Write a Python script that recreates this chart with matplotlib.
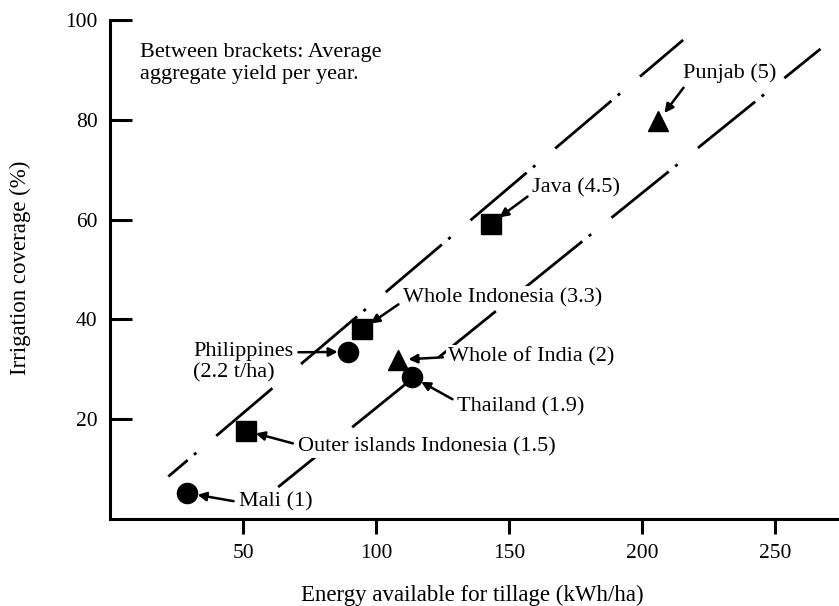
import matplotlib.pyplot as plt

plt.rcParams["font.family"] = ["Liberation Serif", "DejaVu Serif"]
plt.rcParams["lines.scale_dashes"] = False

# points: energy (kWh/ha), irrigation coverage (%)
labels = ["Mali (1)", "Outer islands Indonesia (1.5)", "Philippines\n(2.2 t/ha)",
          "Whole Indonesia (3.3)", "Whole of India (2)", "Thailand (1.9)",
          "Java (4.5)", "Punjab (5)"]
energy = [29, 51, 89.5, 94.7, 108.2, 113.5, 143.2, 206]
irrigation = [5.2, 17.7, 33.5, 38, 31.9, 28.5, 59.2, 79.7]
markers = ["o", "s", "o", "s", "^", "o", "s", "^"]

# the two dash-dot band lines
upper_x = [21.9, 215.4]
upper_y = [8.5, 96.0]
lower_x = [63.2, 267.0]
lower_y = [6.4, 94.2]

# label offsets (points) and where the arrow leaves the text
offsets = [(37, -6.5), (37.5, -11.5), (-111.5, -7.5), (29.5, 23),
           (36, 2), (32.5, -21.5), (29.5, 26), (18, 34.5)]
relpos = [(0, 0.5), (0, 0.6), (1, 0.75), (0, 0.3),
          (0, 0.5), (0, 0.75), (0, 0.2), (0.04, 0.0)]

fig = plt.figure(figsize=(8.39, 6.06), dpi=100)
ax = fig.add_axes([0.1311, 0.1436, 0.869, 0.8234])

pattern = [53, 6, 2.2, 18.8]
ax.plot(upper_x, upper_y, color="black", lw=2.0, dash_capstyle="butt",
        linestyle=(34.7, pattern), zorder=1)
ax.plot(lower_x, lower_y, color="black", lw=2.0, dash_capstyle="butt",
        linestyle=(11.5, pattern), zorder=1)

for x, y, m in zip(energy, irrigation, markers):
    ax.plot(x, y, marker=m, ms=14.5 if m != "^" else 14, color="black",
            linestyle="none", zorder=4)

for lab, x, y, off, rp in zip(labels, energy, irrigation, offsets, relpos):
    ax.annotate(lab, xy=(x, y), xytext=off, textcoords="offset points",
                ha="left", va="center", fontsize=16, zorder=5,
                linespacing=1.1,
                bbox=dict(boxstyle="square,pad=0.1", fc="white", ec="none"),
                arrowprops=dict(arrowstyle="-|>", color="black", lw=1.8,
                                mutation_scale=13, shrinkA=2, shrinkB=7.5,
                                relpos=rp))

ax.text(0.041, 0.953, "Between brackets: Average\naggregate yield per year.",
        transform=ax.transAxes, ha="left", va="top", fontsize=16,
        linespacing=1.2)

ax.set_xlim(0, 274)
ax.set_ylim(0, 100)
ax.set_xticks([50, 100, 150, 200, 250])
ax.set_yticks([20, 40, 60, 80, 100])
for s in ["top", "right"]:
    ax.spines[s].set_visible(False)
for s in ["left", "bottom"]:
    ax.spines[s].set_linewidth(2.2)
ax.tick_params(axis="y", direction="in", length=16, width=2.2, pad=9,
               labelsize=15.5)
ax.tick_params(axis="x", direction="out", length=11, width=2.2, pad=7,
               labelsize=15.5)

ax.set_xlabel("Energy available for tillage (kWh/ha)", fontsize=16.5)
ax.set_ylabel("Irrigation coverage (%)", fontsize=16.5)
ax.xaxis.set_label_coords(0.497, -0.153)
ax.xaxis.label.set_va("center")
ax.yaxis.set_label_coords(-0.1235, 0.504)
ax.yaxis.label.set_va("center")

fig.savefig("out.png", dpi=100)
